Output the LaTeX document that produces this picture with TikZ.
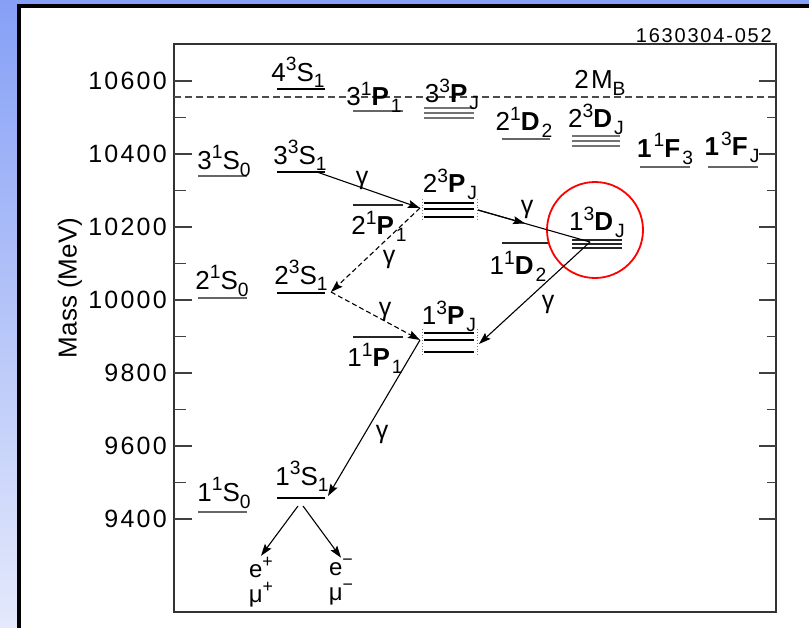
\documentclass[tikz,border=0pt]{standalone}
\usepackage{fontspec}
\setmainfont{Liberation Sans}[LetterSpace=8]
\usepackage{xcolor}
\usepackage{tikz}
\usetikzlibrary{arrows.meta,positioning,calc}

\definecolor{slideblue}{RGB}{134,160,246}
\definecolor{slidepale}{RGB}{228,233,251}
\newcommand{\levsup}[1]{\raisebox{0.42em}{\scalebox{0.74}{#1}}}
\newcommand{\levsub}[1]{\raisebox{-0.24em}{\scalebox{0.74}{#1}}}

\begin{document}
\begin{tikzpicture}[
    x=1pt, y=-1pt,
    frame/.style={line width=1.8pt, black!80},
    axistick/.style={line width=1.2pt, black!75},
    level/.style={line width=2.7pt, black},
    lvlthin/.style={line width=1.4pt, black!85},
    lvlpred/.style={line width=1.8pt, black!60},
    multi/.style={line width=1.3pt, black!55},
    lbl/.style={font=\fontsize{26}{28}\selectfont, inner sep=0pt},
    gam/.style={font=\fontsize{25}{26}\selectfont, inner sep=0pt},
    ticklbl/.style={font=\fontsize{25}{28}\selectfont\addfontfeature{LetterSpace=9}, anchor=east, inner sep=0pt},
    arrow/.style={-{Stealth[length=12pt,width=8pt,inset=2pt]}, line width=1.1pt},
    darrow/.style={arrow, dash pattern=on 5pt off 3pt},
    edge/.style={dotted, line width=0.8pt, black!50}
]
\useasboundingbox (0,0) rectangle (809,627);
\clip (0,0) rectangle (809,627);

% slide background
\shade[top color=slideblue, bottom color=slidepale] (0,0) rectangle (809,627);
\draw[line width=4pt, fill=white] (19,6) rectangle (850,680);

% frame and mass axis
\draw[frame] (174,44) rectangle (776,612);
\foreach \m [evaluate=\m as \yy using {519-(\m-9400)*0.365}] in {9400,9600,...,10600}{
  \draw[axistick] (174,\yy) -- ++(18,0);
  \draw[axistick] (776,\yy) -- ++(-17,0);
  \node[ticklbl] (t\m) at (167,\yy) {\m};
}
\foreach \m [evaluate=\m as \yy using {519-(\m-9400)*0.365}] in {9500,9700,...,10500}{
  \draw[axistick] (174,\yy) -- ++(12,0);
  \draw[axistick] (776,\yy) -- ++(-9,0);
}
\node[rotate=90, inner sep=0pt, font=\fontsize{26}{28}\selectfont\addfontfeature{LetterSpace=0}] (mass) at (70,288) {Mass (MeV)};
\node[anchor=base east, inner sep=0pt, font=\fontsize{20}{22}\selectfont\addfontfeature{LetterSpace=9}] (fignum) at (772,42) {1630304-052};

% BB threshold
\draw[line width=1.5pt, black!70, dash pattern=on 7pt off 4pt] (174,97) -- (776,97);
\node[lbl] (bb) at (600,83) {2M\levsub{B}};

% S waves
\draw[level] (277,89) -- (325,89);
\draw[level] (277,172) -- (325,172);
\draw[level] (277,293) -- (325,293);
\draw[level] (277,498) -- (325,498);
\draw[lvlpred] (198,176) -- (247,176);
\draw[lvlpred] (198,298) -- (247,298);
\draw[lvlpred] (198,512) -- (247,512);
\node[lbl] (s4t) at (298,72) {4\levsup{3}S\levsub{1}};
\node[lbl] (s3t) at (300,155) {3\levsup{3}S\levsub{1}};
\node[lbl] (s3s) at (224,161) {3\levsup{1}S\levsub{0}};
\node[lbl] (s2t) at (301,275) {2\levsup{3}S\levsub{1}};
\node[lbl] (s2s) at (222,281) {2\levsup{1}S\levsub{0}};
\node[lbl] (s1t) at (302,476) {1\levsup{3}S\levsub{1}};
\node[lbl] (s1s) at (224,493) {1\levsup{1}S\levsub{0}};

% P waves
\draw[lvlpred] (353,111) -- (403,111);
\draw[lvlthin] (353,205) -- (403,205);
\draw[lvlthin] (353,337) -- (403,337);
\foreach \yy in {108,113,118} \draw[multi] (424,\yy) -- (474,\yy);
\foreach \yy in {203,209,217} \draw[level] (424,\yy) -- (474,\yy);
\foreach \yy in {333,340,352} \draw[level] (424,\yy) -- (474,\yy);
\draw[edge] (422,199) -- (422,221);
\draw[edge] (477,199) -- (477,221);
\draw[edge] (422,329) -- (422,356);
\draw[edge] (477,329) -- (477,356);
\node[lbl] (p3s) at (374,97) {3\levsup{1}\textbf{P}\levsub{1}};
\node[lbl] (p3t) at (452,94) {3\levsup{3}\textbf{P}\levsub{J}};
\node[lbl] (p2t) at (450,184) {2\levsup{3}\textbf{P}\levsub{J}};
\node[lbl] (p2s) at (379,226) {2\levsup{1}\textbf{P}\levsub{1}};
\node[lbl] (p1t) at (449,316) {1\levsup{3}\textbf{P}\levsub{J}};
\node[lbl] (p1s) at (375,358) {1\levsup{1}\textbf{P}\levsub{1}};

% D waves
\draw[lvlpred] (502,139) -- (550,139);
\draw[lvlthin] (502,243) -- (548,243);
\foreach \yy in {136,141,146} \draw[multi] (572,\yy) -- (620,\yy);
\foreach \yy in {240,244,248} \draw[line width=1.3pt, black!85] (572,\yy) -- (622,\yy);
\node[lbl] (d2s) at (524,122) {2\levsup{1}\textbf{D}\levsub{2}};
\node[lbl] (d2t) at (596,119) {2\levsup{3}\textbf{D}\levsub{J}};
\node[lbl] (d1t) at (597,222) {1\levsup{3}\textbf{D}\levsub{J}};
\node[lbl] (d1s) at (518,266) {1\levsup{1}\textbf{D}\levsub{2}};
\node[circle, draw=red, line width=1.8pt, minimum size=96pt, inner sep=0pt] (mark) at (595,230) {};

% F waves
\draw[lvlpred] (640,167) -- (690,167);
\draw[lvlpred] (708,167) -- (758,167);
\node[lbl] (f1s) at (665,149) {\textbf{1}\levsup{1}\textbf{F}\levsub{3}};
\node[lbl] (f1t) at (732,147) {\textbf{1}\levsup{3}\textbf{F}\levsub{J}};

% transitions
\coordinate (s3) at (317,172);
\coordinate (p2l) at (420,208);
\coordinate (p2r) at (478,210);
\coordinate (s2) at (331,292);
\coordinate (p1l) at (420,340);
\coordinate (p1r) at (479,344);
\coordinate (d1) at (590,242);
\coordinate (s1) at (328,496);
\coordinate (s1a) at (298,506);
\coordinate (s1b) at (303,506);
\node[align=center, inner sep=1pt, font=\fontsize{24}{25}\selectfont] (lep) at (261,582) {e\levsup{+}\\μ\levsup{+}};
\node[align=center, inner sep=1pt, font=\fontsize{24}{25}\selectfont] (lem) at (341,582) {e\levsup{−}\\μ\levsup{−}};

\draw[arrow] (s3) -- (p2l);
\draw[darrow] (p2l) -- (s2);
\draw[darrow] (s2) -- (p1l);
\draw[line width=1.1pt] (p2r) -- (d1);
\draw[arrow] (p2r) -- ($(p2r)!0.42!(d1)$);
\draw[arrow] (d1) -- (p1r);
\draw[arrow] (p1l) -- (s1);
\draw[arrow] (s1a) -- (lep.north);
\draw[arrow] (s1b) -- (lem.north);

\node[gam] (g1) at (362,180) {γ};
\node[gam] (g2) at (389,259) {γ};
\node[gam] (g3) at (385,311) {γ};
\node[gam] (g4) at (527,209) {γ};
\node[gam] (g5) at (548,304) {γ};
\node[gam] (g6) at (382,434) {γ};

\end{tikzpicture}
\end{document}
